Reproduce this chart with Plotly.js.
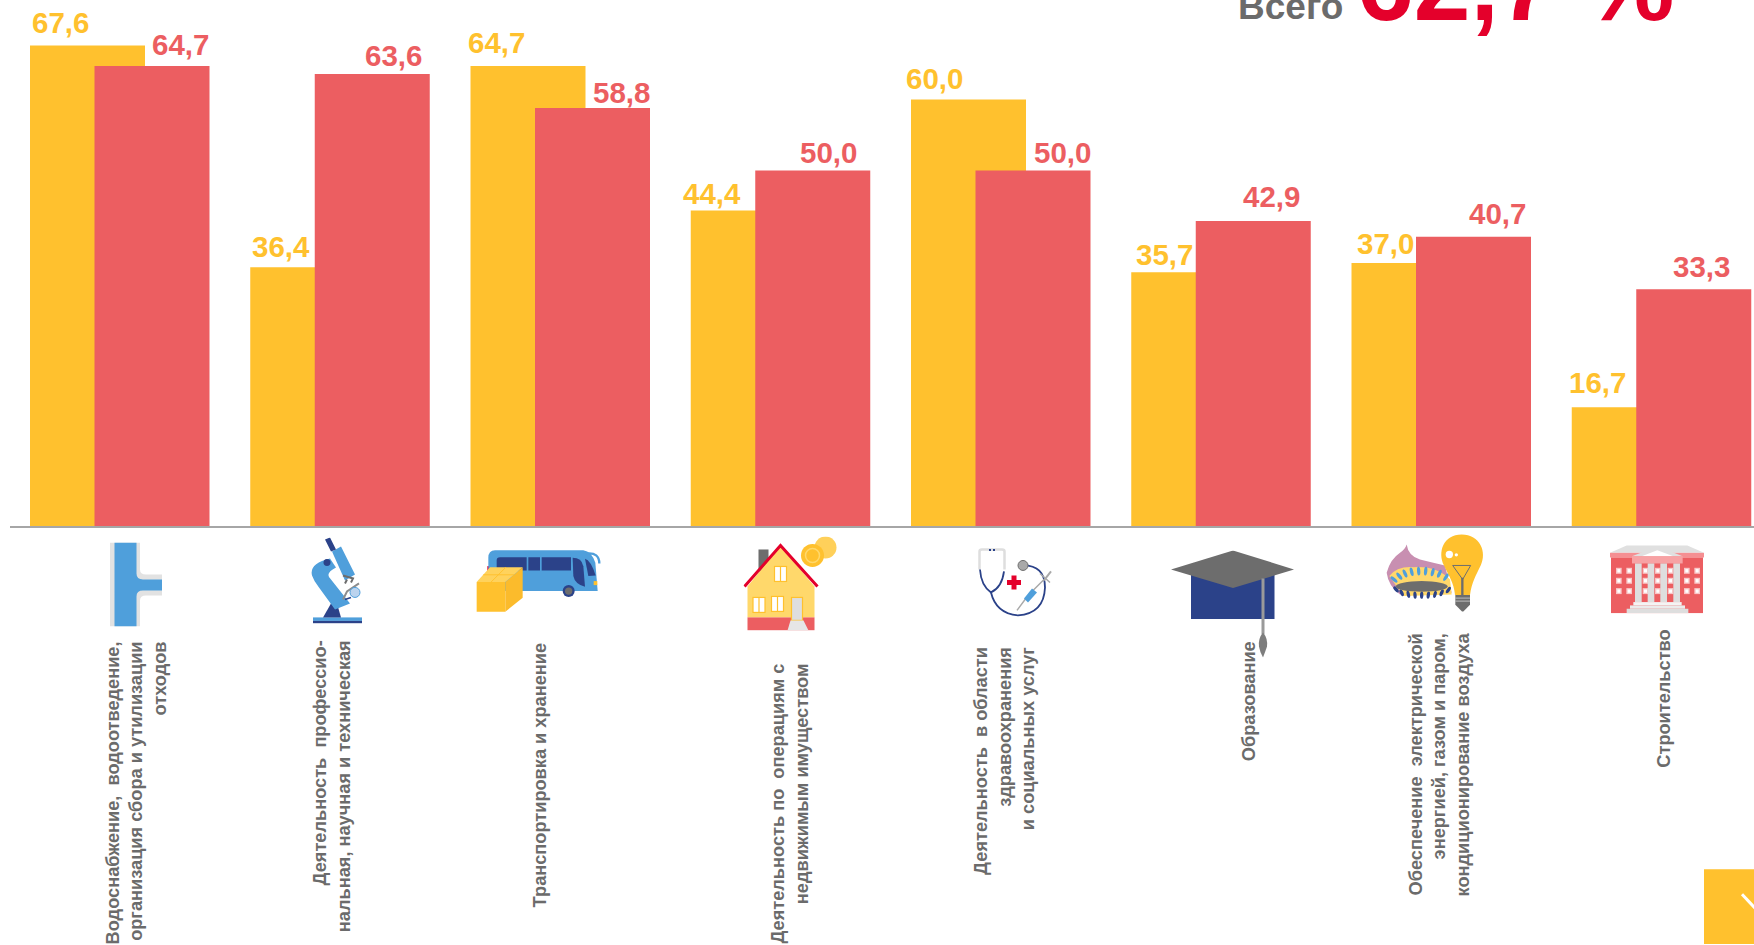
<!DOCTYPE html>
<html><head><meta charset="utf-8">
<script src="https://cdn.plot.ly/plotly-3.0.1.min.js"></script>
<style>html,body{margin:0;padding:0;background:#fff;overflow:hidden}#c{width:1754px;height:945px}</style>
</head><body><div id="c"></div>
<script>
// ---- data ----
const categories = [
 "Водоснабжение,\u00a0 водоотведение,<br>организация сбора и утилизации<br>отходов",
 "Деятельность\u00a0 профессио-<br>нальная, научная и техническая",
 "Транспортировка и хранение",
 "Деятельность по\u00a0 операциям с<br>недвижимым имуществом",
 "Деятельность\u00a0 в области<br>здравоохранения<br>и социальных услуг",
 "Образование",
 "Обеспечение\u00a0 электрической<br>энергией, газом и паром,<br>кондиционирование воздуха",
 "Строительство"];
const yellowValues = [67.6,36.4,64.7,44.4,60.0,35.7,37.0,16.7];
const redValues    = [64.7,63.6,58.8,50.0,50.0,42.9,40.7,33.3];
const totalLabel = "Всего";
const totalValue = "62,7 %";

// ---- layout constants (pixels) ----
const W=1754,H=945,BASE=526.5,L=10,PITCH=220.25,C0=119.5,PXU=7.115;
const BW=115;
const YL="#FFC12E",RD="#EC5E61",GR="#6B6B6B",NV="#2B4289",BL="#4F9FDB",LG="#DEDEDE",CR="#E4002B";
const yLblDx=[-89,-89,-93,-98,-96,-86,-85,-93], rLblDx=[90.5,83,91,78,91,80,86,70];
const yLblGap=[23,21,24,17,21,18,20,25], rLblGap=[22,18,16,18,18,25,23,23];
const catDx=[17,-7,-20,10,4,29,-2,3], catTop=[641,640,643,663,647,641,632,629];
const px=x=>(x-L)/(W-L), py=y=>(BASE-y)/BASE;
const xs=categories.map((_,i)=>i);
const fmt=v=>v.toFixed(1).replace('.',',');

// ---- icons ----
const blue=(x,y,rot,c,rx=5,ry=13)=>`<ellipse cx="${x}" cy="${y}" rx="${rx}" ry="${ry}" fill="${c}" transform="rotate(${rot} ${x} ${y})"/>`;
function gasFlames(){let s='';
 [[42,150,-50],[58,140,-38],[75,132,-25],[95,127,-14],[116,125,-4],[137,125,6],[158,128,14],[178,133,24],[198,143,34]].forEach(a=>s+=blue(a[0],a[1],a[2],BL));
 [[48,180,-40],[65,190,-25],[85,195,-12],[105,197,-4],[125,197,2],[145,197,8],[165,195,14],[185,190,24],[205,182,35]].forEach(a=>s+=blue(a[0],a[1],a[2],NV,5,11));
 return s;}
function bldWindows(){let s='';
 [85,115,146].forEach(y=>[48,79,128,165,203,252,283].forEach(x=>{s+=`<rect x="${x}" y="${y}" width="17" height="18" fill="#F9C6C7"/><rect x="${x+4}" y="${y+4}" width="9" height="10" fill="#fff"/>`;}));
 return s;}
const icons=[
 {x:110,y:543,w:52,h:84,vb:"0 0 52 84",s:`
  <path d="M0 0H30V27Q30 32 36 32H52V53H36Q30 53 30 58V84H0Z" fill="#E2E2E2"/>
  <path d="M4.5 0H26.5V31Q26.5 37 33 37H52V48H33Q26.5 48 26.5 54V84H4.5Z" fill="${BL}"/>`},
 {x:311,y:538,w:51,h:86,vb:"0 0 51 86",s:`
  <rect x="2" y="80" width="49" height="3.5" fill="${BL}"/><rect x="2" y="83.5" width="49" height="2.5" fill="${NV}"/>
  <path d="M12 80L20 66H26L30 80Z" fill="${NV}"/>
  <path d="M19 21Q-2 26 1 38Q3 44 8 50L24 72L39 66L20 42Q13 36 25 30Z" fill="${BL}"/>
  <path d="M21 14L30 9L44 37L34 43Z" fill="${BL}"/>
  <path d="M14 2L19 0L25 12L20 14Z" fill="${NV}"/>
  <circle cx="16" cy="25" r="3.5" fill="${NV}"/>
  <path d="M32 38L42 41L40 45M36 42L34 46" stroke="#6d6d6d" stroke-width="2" fill="none"/>
  <path d="M32 62L36 54L48 46" stroke="#8d8d8d" stroke-width="2" fill="none"/>
  <path d="M34 62L40 60" stroke="${NV}" stroke-width="1.5"/>
  <circle cx="44" cy="55" r="5" fill="#BBD3EE" stroke="${BL}" stroke-width="1"/>`},
 {x:470,y:530,w:140,h:100,vb:"0 0 420 300",s:`
  <rect x="52" y="110" width="8" height="22" fill="${CR}"/>
  <path d="M55 85Q55 62 75 62L340 62Q365 65 376 100L383 185L55 185Z" fill="${BL}"/>
  <path d="M350 72Q388 68 388 102" stroke="${BL}" stroke-width="7" fill="none"/>
  <path d="M80 92Q80 83 90 83H170V123H80ZM175 83H210V123H175ZM215 83H303V123H215Z" fill="${NV}"/>
  <path d="M308 85Q335 85 340 110L345 172Q315 165 310 140Z" fill="${NV}"/>
  <path d="M345 88Q362 92 377 138L355 140Z" fill="${NV}"/>
  <rect x="371" y="155" width="11" height="12" fill="${YL}"/>
  <circle cx="296" cy="185" r="18" fill="${NV}"/><circle cx="296" cy="185" r="11" fill="#6d6d6d"/>
  <path d="M20 158H106V247H20Z" fill="${YL}"/><path d="M106 158L158 113V205L106 247Z" fill="#FBBB2C"/>
  <path d="M20 158L60 113H158L106 158Z" fill="#FFD25C"/>
  <path d="M40 136H132M63 158L108 113" stroke="${YL}" stroke-width="3"/>`},
 {x:743.5,y:537,w:94,h:94,vb:"0 0 94 94",s:`
  <rect x="15" y="13" width="10" height="22" fill="#6d6d6d"/>
  <path d="M37 9L71 50V81H4V50Z" fill="#FFD86B"/>
  <rect x="4" y="81" width="67" height="13" fill="${RD}"/>
  <path d="M1 50L37 9L74 50" stroke="${CR}" stroke-width="3" fill="none"/>
  <g fill="#fff" stroke="#FFC12E" stroke-width="1.2"><rect x="31" y="30" width="12" height="15"/><rect x="9.5" y="61" width="12" height="15"/><rect x="28" y="60" width="12" height="15"/></g>
  <path d="M37 30V45M15.5 61V76M34 60V75" stroke="#FFC12E" stroke-width="1.2"/>
  <rect x="48" y="61" width="11" height="23" fill="${LG}" stroke="#FFC12E" stroke-width="1.2"/>
  <path d="M44 94L47 84H60L65 94Z" fill="#E6E6E6"/>
  <circle cx="82" cy="11" r="11" fill="#FFD05A"/><circle cx="69" cy="19" r="11.5" fill="${YL}"/>
  <circle cx="69" cy="19" r="7" fill="none" stroke="#FFD86B" stroke-width="1.5"/>`},
 {x:978,y:548,w:77,h:70,vb:"0 0 77 70",s:`
  <path d="M1.5 22V4Q1.5 2 4 2H24Q26.5 2 26.5 4V22" stroke="${LG}" stroke-width="2.5" fill="none"/>
  <path d="M11 2.5h2M15 2.5h2" stroke="${NV}" stroke-width="2"/>
  <path d="M2 22Q3 38 13 45Q24 40 26 24" stroke="${NV}" stroke-width="1.8" fill="none"/>
  <path d="M13 45Q18 66 40 68Q66 66 67 40Q67 18 45 18" stroke="${NV}" stroke-width="1.8" fill="none"/>
  <circle cx="45" cy="18" r="5" fill="#A9A9A9" stroke="#6d6d6d" stroke-width="1"/>
  <path d="M36 28V42M29 35H43" stroke="${CR}" stroke-width="5"/>
  <path d="M39 63L50 48L66 32M62 26L72 35" stroke="#A9A9A9" stroke-width="1.5" fill="none"/>
  <path d="M73 24L66 33" stroke="#A9A9A9" stroke-width="2"/>
  <path d="M46 51L54 41L59 45L50 55Z" fill="${BL}"/>`},
 {x:1171,y:551,w:123,h:107,vb:"0 0 123 107",s:`
  <rect x="20" y="24" width="83.5" height="44.6" fill="${NV}"/>
  <path d="M0 19L62 0L123 19L62 37.6Z" fill="#6D6D6D"/>
  <path d="M92 28V84" stroke="#9A9A9A" stroke-width="3"/>
  <path d="M92 82Q97 88 96 96Q94 102 92 107Q89 102 88 96Q87 88 92 82Z" fill="#7d7d7d"/>`},
 {x:1380,y:530,w:110,h:90,vb:"0 0 330 270",s:`
  <path d="M20 130Q30 90 60 70Q75 60 80 45Q85 80 120 90Q160 100 195 108L215 190L60 195Q25 170 20 130Z" fill="#C88FB1"/>
  <path d="M28 140Q50 110 100 113Q170 108 210 150L215 195L70 200Z" fill="#FFD86B"/>
  ${gasFlames()}
  <ellipse cx="125" cy="171" rx="78" ry="16" fill="#6D6D6D"/>
  <path d="M245 15C300 15 322 68 302 108C288 138 275 158 270 197L225 197C222 158 205 138 192 108C172 68 190 15 245 15Z" fill="${YL}"/>
  <circle cx="208" cy="75" r="11" fill="#fff"/><circle cx="229" cy="76" r="5" fill="#fff"/>
  <path d="M218 108L272 108L248 150Z" stroke="#6d6d6d" stroke-width="3" fill="none"/>
  <path d="M247 145V197" stroke="#6d6d6d" stroke-width="7"/>
  <path d="M226 197H270V226L250 246H246L226 226Z" fill="#6D6D6D"/>
  <path d="M226 206H270M226 215H270" stroke="#CFCFCF" stroke-width="2.5"/>`},
 {x:1600,y:540,w:110,h:80,vb:"0 0 330 240",s:`
  <path d="M30 40L80 18H262L312 40Z" fill="#E0E0E0"/>
  <rect x="30" y="40" width="282" height="14" fill="#F58F92"/>
  <rect x="33" y="54" width="276" height="167" fill="${RD}"/>
  ${bldWindows()}
  <path d="M96 50L172 20L248 50Z" fill="#E0E0E0"/><path d="M125 50L172 32L220 50Z" fill="#fff"/>
  <rect x="96" y="50" width="152" height="22" fill="#F7A2A4"/>
  <g fill="#DEDEDE"><rect x="105" y="72" width="20" height="116"/><rect x="143" y="72" width="20" height="116"/><rect x="181" y="72" width="20" height="116"/><rect x="220" y="72" width="20" height="116"/></g>
  <rect x="100" y="188" width="145" height="10" fill="#F4F4F4"/><rect x="90" y="198" width="165" height="10" fill="#EBEBEB"/><rect x="80" y="208" width="185" height="13" fill="#DEDEDE"/>`}
];
const images=icons.map(ic=>({
  source:'data:image/svg+xml;charset=utf-8,'+encodeURIComponent(`<svg xmlns="http://www.w3.org/2000/svg" width="${ic.w}" height="${ic.h}" viewBox="${ic.vb}" preserveAspectRatio="none">${ic.s}</svg>`),
  xref:'paper',yref:'paper',x:px(ic.x),y:py(ic.y),sizex:ic.w/(W-L),sizey:ic.h/BASE,sizing:'stretch',xanchor:'left',yanchor:'top',layer:'above'}));

// ---- annotations ----
const F="'Liberation Sans',Arial,sans-serif";
const ann=[];
xs.forEach(i=>{
 ann.push({xref:'x',yref:'y',x:i,y:yellowValues[i],text:fmt(yellowValues[i]),showarrow:false,xanchor:'left',yanchor:'middle',xshift:yLblDx[i],yshift:yLblGap[i],borderpad:0,font:{family:F,size:29.5,color:YL,weight:700}});
 ann.push({xref:'x',yref:'y',x:i,y:redValues[i],text:fmt(redValues[i]),showarrow:false,xanchor:'right',yanchor:'middle',xshift:rLblDx[i],yshift:rLblGap[i],borderpad:0,font:{family:F,size:29.5,color:RD,weight:700}});
 ann.push({xref:'x',yref:'paper',x:i,y:py(catTop[i]),text:categories[i],textangle:-90,align:'right',showarrow:false,xanchor:'center',yanchor:'top',xshift:catDx[i],borderpad:0,font:{family:F,size:18.2,color:GR,weight:700}});
});
ann.push({xref:'paper',yref:'paper',x:px(1237),y:py(28),text:totalLabel,showarrow:false,xanchor:'left',yanchor:'bottom',borderpad:0,font:{family:F,size:37,color:GR,weight:700}});
ann.push({xref:'paper',yref:'paper',x:px(1356),y:py(43),text:totalValue,showarrow:false,xanchor:'left',yanchor:'bottom',borderpad:0,font:{family:F,size:102,color:CR,weight:700}});

const shapes=[
 {type:'rect',xref:'paper',yref:'paper',x0:px(1704),x1:px(1754),y0:py(870),y1:py(945),fillcolor:YL,line:{width:0},layer:'above'},
 {type:'line',xref:'paper',yref:'paper',x0:px(1742),y0:py(895),x1:px(1756),y1:py(910),line:{color:'#fff',width:3},layer:'above'}
];

const traces=[
 {type:'bar',x:xs,y:yellowValues,width:BW/PITCH,offset:-89.5/PITCH,marker:{color:YL,line:{width:0}},hoverinfo:'skip'},
 {type:'bar',x:xs,y:redValues,width:BW/PITCH,offset:-25/PITCH,marker:{color:RD,line:{width:0}},hoverinfo:'skip'}
];
const layout={
 width:W,height:H,margin:{l:L,r:0,t:0,b:H-BASE},paper_bgcolor:'#fff',plot_bgcolor:'#fff',
 barmode:'overlay',showlegend:false,
 xaxis:{range:[(L-C0)/PITCH,(W-C0)/PITCH],showgrid:false,zeroline:false,showticklabels:false,ticks:'',showline:true,linecolor:'#A6A6A6',linewidth:2,fixedrange:true},
 yaxis:{range:[0,BASE/PXU],visible:false,fixedrange:true},
 annotations:ann,images:images,shapes:shapes
};
Plotly.newPlot('c',traces,layout,{displayModeBar:false,staticPlot:true});
</script></body></html>
